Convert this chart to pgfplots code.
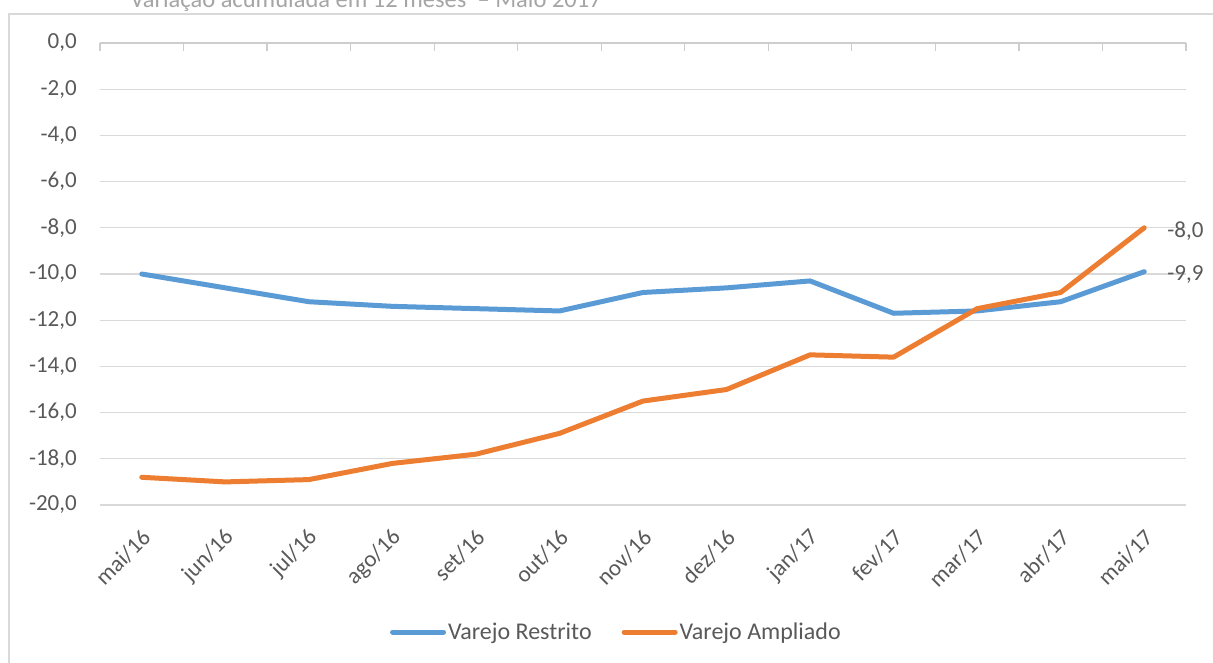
\documentclass[border=0pt]{standalone}
\usepackage{pgfplots}
\pgfplotsset{compat=1.18}
\usepackage{fontspec}
\setmainfont{Carlito}
\definecolor{txt}{RGB}{89,89,89}
\definecolor{ttl}{RGB}{165,165,165}
\definecolor{gridc}{RGB}{217,217,217}
\definecolor{axc}{RGB}{205,205,205}
\definecolor{blu}{RGB}{91,155,213}
\definecolor{ora}{RGB}{237,125,49}
\pgfplotstableread{
x restrito ampliado
0  -10.0 -18.8
1  -10.6 -19.0
2  -11.2 -18.9
3  -11.4 -18.2
4  -11.5 -17.8
5  -11.6 -16.9
6  -10.8 -15.5
7  -10.6 -15.0
8  -10.3 -13.5
9  -11.7 -13.6
10 -11.6 -11.5
11 -11.2 -10.8
12  -9.9  -8.0
}\datatable
\begin{document}
\begin{tikzpicture}[x=1pt,y=1pt]
\useasboundingbox (0,0) rectangle (1213,662);
\draw[gridc, line width=1.5pt] (9,-10) -- (9,648) -- (1230,648);
\node[anchor=base, text=ttl, inner sep=0pt, font=\fontsize{24.5}{28}\selectfont] at (366,654) {Variação acumulada em 12 meses \ – Maio 2017};
\begin{axis}[
  at={(100pt,157pt)}, anchor=south west,
  scale only axis, width=1086pt, height=462pt,
  xmin=-0.5, xmax=12.5, ymin=-20, ymax=0,
  ytick={-20,-18,...,0},
  xtick={0,...,12},
  xticklabels={mai/16,jun/16,jul/16,ago/16,set/16,out/16,nov/16,dez/16,jan/17,fev/17,mar/17,abr/17,mai/17},
  axis line style={draw=none},
  major tick length=0pt,
  ymajorgrids,
  grid style={gridc, line width=1.3pt},
  /pgf/number format/assume math mode=true,
  tick label style={font=\fontsize{23}{26}\selectfont, text=txt},
  yticklabel style={/pgf/number format/.cd, fixed, fixed zerofill, precision=1, use comma, /tikz/.cd, anchor=east, inner sep=0pt, xshift=-23pt},
  xticklabel style={yshift=-29pt, xshift=5pt, rotate=45, anchor=east, inner sep=0pt},
  legend style={at={(0.4755,-0.2749)}, anchor=center, draw=none, fill=none,
    legend columns=2, font=\fontsize{24}{27}\selectfont, text=txt,
    /tikz/every even column/.append style={column sep=28pt}},
  legend cell align=left,
  legend image code/.code={\draw[#1, line width=5pt, line cap=round] (0pt,0pt) -- (51pt,0pt);},
  clip=false,
]
\draw[axc, line width=1.3pt] (axis cs:-0.5,0) -- (axis cs:12.5,0);
\pgfplotsinvokeforeach{-0.5,0.5,1.5,2.5,3.5,4.5,5.5,6.5,7.5,8.5,9.5,10.5,11.5,12.5}{
  \draw[axc, line width=1.3pt] (axis cs:#1,0) -- ++(0pt,-8pt);
}
\addplot[blu, line width=5pt, line join=round, line cap=round] table[x=x, y=restrito] {\datatable};
\addlegendentry{Varejo Restrito}
\addplot[ora, line width=5pt, line join=round, line cap=round] table[x=x, y=ampliado] {\datatable};
\addlegendentry{Varejo Ampliado}
\node[anchor=west, inner sep=0pt, text=txt, font=\fontsize{23}{26}\selectfont, xshift=23pt, yshift=-3pt] at (axis cs:12,-8.0) {-8,0};
\node[anchor=west, inner sep=0pt, text=txt, font=\fontsize{23}{26}\selectfont, xshift=23pt, yshift=-3pt] at (axis cs:12,-9.9) {-9,9};
\end{axis}
\end{tikzpicture}
\end{document}
